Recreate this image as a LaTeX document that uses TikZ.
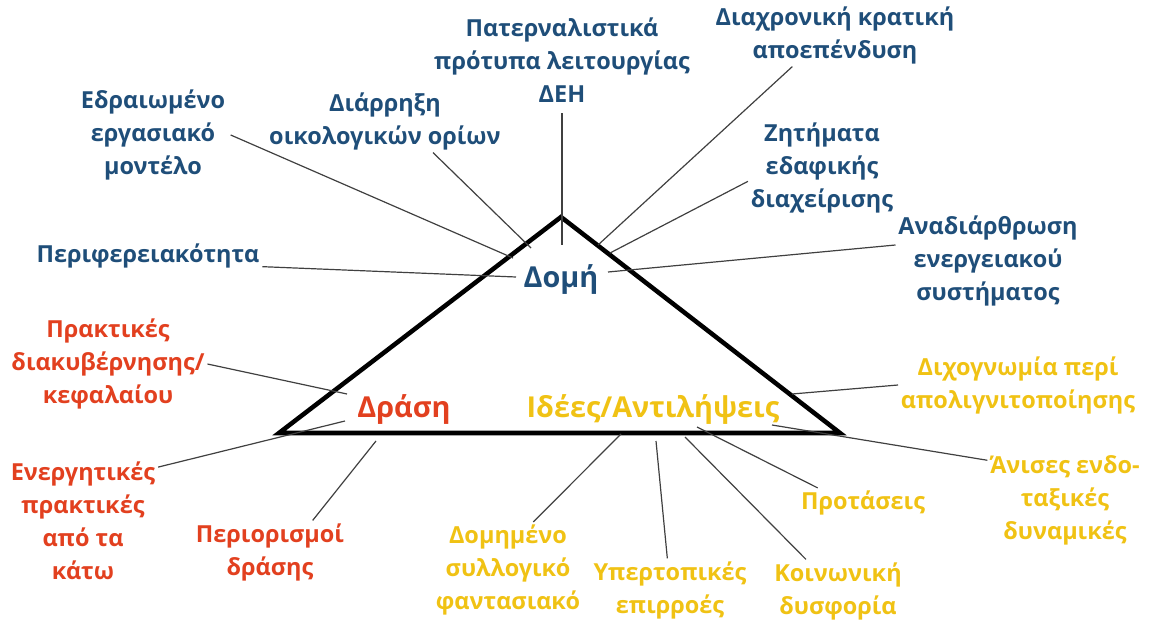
\documentclass[tikz,border=0pt]{standalone}
\usepackage{fontspec}
\setmainfont{Open Sans}
\definecolor{dblue}{HTML}{1F4E79}
\definecolor{dred}{HTML}{E2401F}
\definecolor{dyellow}{HTML}{F0C214}
\begin{document}
\begin{tikzpicture}[x=0.75pt,y=-0.75pt,
  lab/.style={align=center, font=\fontsize{17.6}{24.75}\selectfont\bfseries, inner sep=2pt},
  big/.style={font=\fontsize{21.6}{25}\selectfont\bfseries, inner sep=1pt},
  conn/.style={draw=black!75, line width=0.9pt}]
\useasboundingbox (0,0) rectangle (1152,623);

% triangle
\coordinate (top) at (561,217);
\coordinate (bl) at (279,433);
\coordinate (br) at (840,433);
\draw[line width=3.4pt, line join=miter] (top) -- (br) -- (bl) -- cycle;

\node[big, text=dblue] (domi) at (561,279) {Δομή};
\node[big, text=dred] (drasi) at (404,409) {Δράση};
\node[big, text=dyellow] (idees) at (653,409) {Ιδέες/Αντιλήψεις};

% Domi labels
\node[lab, text=dblue] (patern) at (562,60) {Πατερναλιστικά\\πρότυπα λειτουργίας\\ΔΕΗ};
\node[lab, text=dblue] (diax) at (835,35) {Διαχρονική κρατική\\αποεπένδυση};
\node[lab, text=dblue] (edrai) at (153,135) {Εδραιωμένο\\εργασιακό\\μοντέλο};
\node[lab, text=dblue] (diarr) at (385,121) {Διάρρηξη\\οικολογικών ορίων};
\node[lab, text=dblue] (zit) at (822,168) {Ζητήματα\\εδαφικής\\διαχείρισης};
\node[lab, text=dblue] (perif) at (148,256) {Περιφερειακότητα};
\node[lab, text=dblue] (anad) at (988,261) {Αναδιάρθρωση\\ενεργειακού\\συστήματος};

% Drasi labels
\node[lab, text=dred] (prakt) at (108,364) {Πρακτικές\\διακυβέρνησης/\\κεφαλαίου};
\node[lab, text=dred] (energ) at (83,521) {Ενεργητικές\\πρακτικές\\από τα\\κάτω};
\node[lab, text=dred] (perior) at (270,552) {Περιορισμοί\\δράσης};

% Idees labels
\node[lab, text=dyellow] (dixog) at (1018,385) {Διχογνωμία περί\\απολιγνιτοποίησης};
\node[lab, text=dyellow] (domim) at (508,570) {Δομημένο\\συλλογικό\\φαντασιακό};
\node[lab, text=dyellow] (yper) at (670,590) {Υπερτοπικές\\επιρροές};
\node[lab, text=dyellow] (koin) at (838,591) {Κοινωνική\\δυσφορία};
\node[lab, text=dyellow] (prot) at (863,503) {Προτάσεις};
\node[lab, text=dyellow] (anis) at (1065,500) {Άνισες ενδο-\\ταξικές\\δυναμικές};

% connector ends
\coordinate (c-edrai) at (513,258);
\coordinate (c-diarr) at (531,248);
\coordinate (c-patern) at (562,245);
\coordinate (c-diax) at (598,245);
\coordinate (c-zit) at (610,253);
\coordinate (c-perif) at (516,277);
\coordinate (c-anad) at (608,272);
\coordinate (c-prakt) at (347,394);
\coordinate (c-energ) at (345,421);
\coordinate (c-perior) at (376,441);
\coordinate (c-domim) at (621,434);
\coordinate (c-yper) at (656,441);
\coordinate (c-koin) at (685,437);
\coordinate (c-prot) at (697,427);
\coordinate (c-anis) at (772,425);
\coordinate (c-dixog) at (792,394);

\draw[conn] ([xshift=2pt]edrai.east) -- (c-edrai);
\draw[conn] ([xshift=36pt]diarr.south) -- (c-diarr);
\draw[conn] ([yshift=-6pt]patern.south) -- (c-patern);
\draw[conn] ([xshift=-32pt]diax.south) -- (c-diax);
\draw[conn] ([yshift=-10pt]zit.west) -- (c-zit);
\draw[conn] ([yshift=-8pt]perif.east) -- (c-perif);
\draw[conn] ([yshift=12pt]anad.west) -- (c-anad);
\draw[conn] (prakt.east) -- (c-prakt);
\draw[conn] ([yshift=-6pt]energ.north east) -- (c-energ);
\draw[conn] ([xshift=32pt]perior.north) -- (c-perior);
\draw[conn] ([xshift=19pt]domim.north) -- (c-domim);
\draw[conn] ([xshift=-2pt]yper.north) -- (c-yper);
\draw[conn] ([xshift=-24pt]koin.north) -- (c-koin);
\draw[conn] ([xshift=-34pt]prot.north) -- (c-prot);
\draw[conn] ([yshift=-6pt]anis.north west) -- (c-anis);
\draw[conn] (dixog.west) -- (c-dixog);
\end{tikzpicture}
\end{document}
